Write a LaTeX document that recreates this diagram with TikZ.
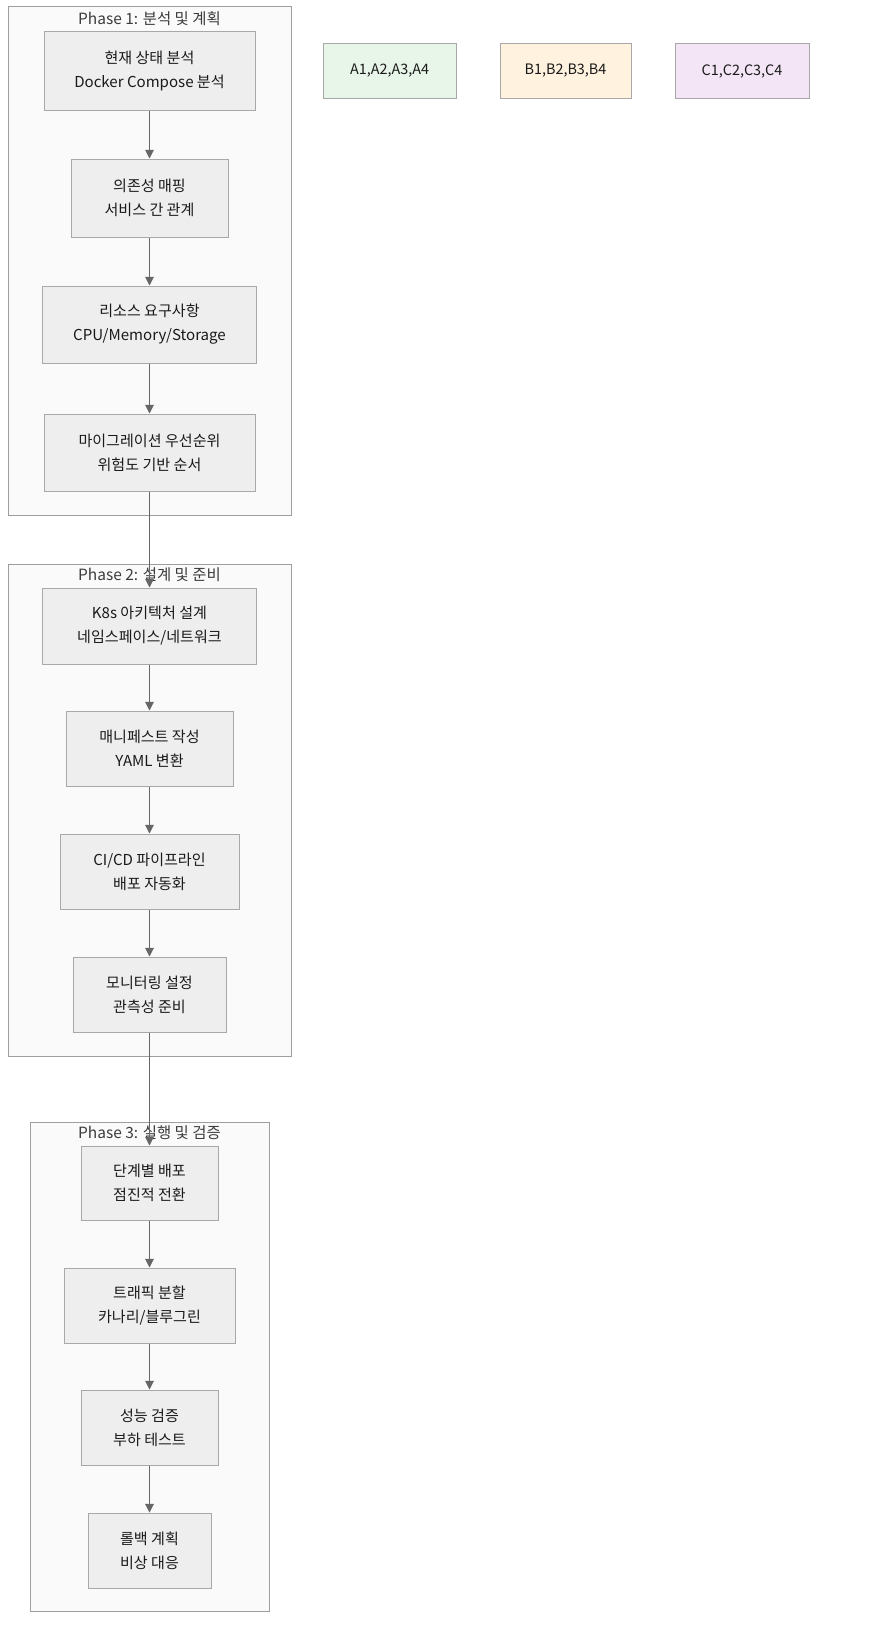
\documentclass[tikz,border=0pt]{standalone}
\usepackage{fontspec}
\setmainfont{Noto Sans CJK KR}
\usetikzlibrary{arrows.meta}
\definecolor{clfill}{HTML}{FAFAFA}
\definecolor{cldraw}{HTML}{9E9E9E}
\definecolor{bxfill}{HTML}{EEEEEE}
\definecolor{bxdraw}{HTML}{A8A8A8}
\definecolor{arr}{HTML}{666666}
\definecolor{txt}{HTML}{1A1A1A}
\definecolor{afill}{HTML}{E8F5E9}
\definecolor{bfill}{HTML}{FFF3E0}
\definecolor{cfill}{HTML}{F3E5F5}
\tikzset{
  px/.style={x=0.75pt,y=-0.75pt},
  cluster/.style={draw=cldraw,fill=clfill,line width=0.75pt},
  ctitle/.style={text=txt!85,font=\fontsize{11.6}{14}\selectfont,inner sep=0pt},
  stepbox/.style 2 args={draw=bxdraw,fill=bxfill,line width=0.75pt,
    minimum width=#1*0.75pt,minimum height=#2*0.75pt,inner sep=0pt,
    align=center,text=txt,font=\fontsize{11.3}{18}\selectfont},
  legbox/.style 2 args={draw=bxdraw,line width=0.75pt,fill=#2,
    minimum width=#1*0.75pt,minimum height=54*0.75pt,inner sep=0pt,
    text=txt,font=\fontsize{10.8}{13}\selectfont},
  flow/.style={draw=arr,line width=0.75pt,-{Triangle[length=6.5pt,width=6.5pt]}}
}
\begin{document}
\begin{tikzpicture}[px]
\path[use as bounding box,fill=white] (0,0) rectangle (883,1652);
% clusters
\draw[cluster] (8,7) rectangle (291,515);
\draw[cluster] (8,564) rectangle (291,1056);
\draw[cluster] (30,1122) rectangle (269,1611);
\node[ctitle] (t1) at (149.5,19) {Phase 1: 분석 및 계획};
\node[ctitle] (t2) at (149.5,575) {Phase 2: 설계 및 준비};
\node[ctitle] (t3) at (149.5,1133) {Phase 3: 실행 및 검증};
% phase 1
\node[stepbox={211}{78}] (A1) at (149.5,71) {현재 상태 분석\\Docker Compose 분석};
\node[stepbox={157}{78}] (A2) at (149.5,198) {의존성 매핑\\서비스 간 관계};
\node[stepbox={214}{77}] (A3) at (149.5,324.5) {리소스 요구사항\\CPU/Memory/Storage};
\node[stepbox={211}{77}] (A4) at (149.5,452.5) {마이그레이션 우선순위\\위험도 기반 순서};
% phase 2
\node[stepbox={214}{76}] (B1) at (149.5,626) {K8s 아키텍처 설계\\네임스페이스/네트워크};
\node[stepbox={167}{75}] (B2) at (149.5,748.5) {매니페스트 작성\\YAML 변환};
\node[stepbox={179}{75}] (B3) at (149.5,871.5) {CI/CD 파이프라인\\배포 자동화};
\node[stepbox={153}{75}] (B4) at (149.5,994.5) {모니터링 설정\\관측성 준비};
% phase 3
\node[stepbox={137}{74}] (C1) at (149.5,1183) {단계별 배포\\점진적 전환};
\node[stepbox={171}{75}] (C2) at (149.5,1305.5) {트래픽 분할\\카나리/블루그린};
\node[stepbox={137}{75}] (C3) at (149.5,1427.5) {성능 검증\\부하 테스트};
\node[stepbox={123}{75}] (C4) at (149.5,1550.5) {롤백 계획\\비상 대응};
% legend boxes
\node[legbox={133}{afill}] (LA) at (389.5,71) {A1,A2,A3,A4};
\node[legbox={131}{bfill}] (LB) at (565.5,71) {B1,B2,B3,B4};
\node[legbox={134}{cfill}] (LC) at (742,71) {C1,C2,C3,C4};
% arrows
\draw[flow] (A1) -- (A2);
\draw[flow] (A2) -- (A3);
\draw[flow] (A3) -- (A4);
\draw[flow] (A4) -- (B1);
\draw[flow] (B1) -- (B2);
\draw[flow] (B2) -- (B3);
\draw[flow] (B3) -- (B4);
\draw[flow] (B4) -- (C1);
\draw[flow] (C1) -- (C2);
\draw[flow] (C2) -- (C3);
\draw[flow] (C3) -- (C4);
\end{tikzpicture}
\end{document}
